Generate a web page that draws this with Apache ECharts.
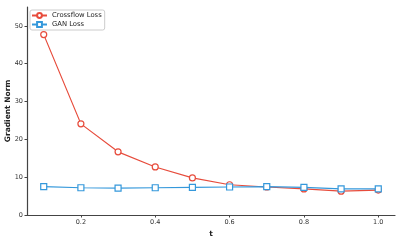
<!DOCTYPE html>
<html>
<head>
<meta charset="utf-8">
<script src="https://cdn.jsdelivr.net/npm/echarts@6/dist/echarts.min.js"></script>
<style>
  html, body { margin: 0; padding: 0; background: #fff; }
  #chart { width: 401px; height: 240px; }
</style>
</head>
<body>
<div id="chart"></div>
<script>
var tValues = [0.1, 0.2, 0.3, 0.4, 0.5, 0.6, 0.7, 0.8, 0.9, 1.0];
var crossflowLoss = [47.7, 24.1, 16.7, 12.7, 9.8, 8.0, 7.4, 6.9, 6.3, 6.6];
var ganLoss = [7.5, 7.2, 7.1, 7.2, 7.3, 7.4, 7.5, 7.3, 6.9, 6.9];
var xTicks = [0.2, 0.4, 0.6, 0.8, 1.0];
var yTicks = [0, 10, 20, 30, 40, 50];

function pairs(vals) {
  return tValues.map(function (t, i) { return [t, vals[i]]; });
}

var chart = echarts.init(document.getElementById('chart'));

chart.setOption({
  animation: false,
  grid: { left: 27, right: 6, top: 7, bottom: 25, containLabel: false, outerBoundsMode: 'none' },
  legend: {
    left: 30, top: 10,
    orient: 'vertical',
    itemWidth: 15, itemHeight: 6, itemGap: 2,
    padding: [2, 3, 2, 1],
    borderColor: '#ccc', borderWidth: 1, borderRadius: 2,
    backgroundColor: '#fff',
    textStyle: { fontSize: 6.8, color: '#222', fontFamily: 'DejaVu Sans' },
    data: ['Crossflow Loss', 'GAN Loss']
  },
  xAxis: {
    type: 'value',
    min: 0.055, max: 1.045,
    name: 't', nameLocation: 'middle', nameGap: 15, nameMoveOverlap: false,
    nameTextStyle: { fontSize: 7.5, fontWeight: 'bold', color: '#222', fontFamily: 'DejaVu Sans' },
    axisLine: { lineStyle: { color: '#444', width: 1.2 } },
    axisTick: { show: true, customValues: xTicks, length: 2.5, lineStyle: { color: '#444' } },
    axisLabel: { customValues: xTicks, fontSize: 6.5, color: '#333', margin: 4, fontFamily: 'DejaVu Sans',
      formatter: function (v) { return v.toFixed(1); } },
    splitLine: { show: false }
  },
  yAxis: {
    type: 'value',
    min: 0, max: 55,
    name: 'Gradient Norm', nameLocation: 'middle', nameGap: 15, nameMoveOverlap: false,
    nameTextStyle: { fontSize: 7.5, fontWeight: 'bold', color: '#222', fontFamily: 'DejaVu Sans' },
    axisLine: { show: true, lineStyle: { color: '#444', width: 1.2 } },
    axisTick: { show: true, customValues: yTicks, length: 2.5, lineStyle: { color: '#444' } },
    axisLabel: { customValues: yTicks, fontSize: 6.5, color: '#333', margin: 4, fontFamily: 'DejaVu Sans' },
    splitLine: { show: false }
  },
  series: [
    {
      name: 'Crossflow Loss',
      type: 'line',
      data: pairs(crossflowLoss),
      symbol: 'circle', symbolSize: 6,
      lineStyle: { color: '#e74c3c', width: 1.2 },
      itemStyle: { color: '#fff', borderColor: '#e74c3c', borderWidth: 1.2 },
      z: 2
    },
    {
      name: 'GAN Loss',
      type: 'line',
      data: pairs(ganLoss),
      symbol: 'rect', symbolSize: 6,
      lineStyle: { color: '#3498db', width: 1.2 },
      itemStyle: { color: '#fff', borderColor: '#3498db', borderWidth: 1.2 },
      z: 3
    }
  ]
});
</script>
</body>
</html>
